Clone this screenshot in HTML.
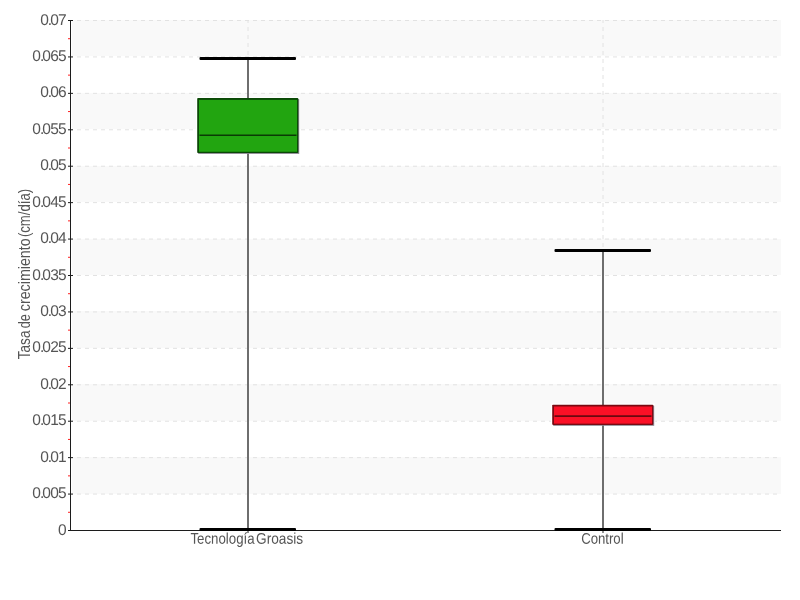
<!DOCTYPE html>
<html><head><meta charset="utf-8"><title>Chart</title>
<style>
html,body{margin:0;padding:0;background:#fff;}
body{width:800px;height:600px;overflow:hidden;font-family:"Liberation Sans",sans-serif;}
svg{display:block;will-change:transform;}
svg text{font-family:"Liberation Sans",sans-serif;fill:#555;}
</style></head><body>
<svg width="800" height="600" viewBox="0 0 800 600">
<rect width="800" height="600" fill="#fff"/>
<rect x="72" y="20" width="709" height="36" fill="#f9f9f9" shape-rendering="crispEdges"/>
<rect x="72" y="93" width="709" height="36" fill="#f9f9f9" shape-rendering="crispEdges"/>
<rect x="72" y="166" width="709" height="36" fill="#f9f9f9" shape-rendering="crispEdges"/>
<rect x="72" y="239" width="709" height="36" fill="#f9f9f9" shape-rendering="crispEdges"/>
<rect x="72" y="311" width="709" height="37" fill="#f9f9f9" shape-rendering="crispEdges"/>
<rect x="72" y="384" width="709" height="37" fill="#f9f9f9" shape-rendering="crispEdges"/>
<rect x="72" y="457" width="709" height="37" fill="#f9f9f9" shape-rendering="crispEdges"/>
 <line x1="77" y1="20.50" x2="780" y2="20.50" stroke="#e2e2e2" stroke-width="1" stroke-dasharray="4 4"/>
 <line x1="77" y1="56.93" x2="780" y2="56.93" stroke="#e2e2e2" stroke-width="1" stroke-dasharray="4 4"/>
 <line x1="77" y1="93.36" x2="780" y2="93.36" stroke="#e2e2e2" stroke-width="1" stroke-dasharray="4 4"/>
 <line x1="77" y1="129.79" x2="780" y2="129.79" stroke="#e2e2e2" stroke-width="1" stroke-dasharray="4 4"/>
 <line x1="77" y1="166.21" x2="780" y2="166.21" stroke="#e2e2e2" stroke-width="1" stroke-dasharray="4 4"/>
 <line x1="77" y1="202.64" x2="780" y2="202.64" stroke="#e2e2e2" stroke-width="1" stroke-dasharray="4 4"/>
 <line x1="77" y1="239.07" x2="780" y2="239.07" stroke="#e2e2e2" stroke-width="1" stroke-dasharray="4 4"/>
 <line x1="77" y1="275.50" x2="780" y2="275.50" stroke="#e2e2e2" stroke-width="1" stroke-dasharray="4 4"/>
 <line x1="77" y1="311.93" x2="780" y2="311.93" stroke="#e2e2e2" stroke-width="1" stroke-dasharray="4 4"/>
 <line x1="77" y1="348.36" x2="780" y2="348.36" stroke="#e2e2e2" stroke-width="1" stroke-dasharray="4 4"/>
 <line x1="77" y1="384.79" x2="780" y2="384.79" stroke="#e2e2e2" stroke-width="1" stroke-dasharray="4 4"/>
 <line x1="77" y1="421.21" x2="780" y2="421.21" stroke="#e2e2e2" stroke-width="1" stroke-dasharray="4 4"/>
 <line x1="77" y1="457.64" x2="780" y2="457.64" stroke="#e2e2e2" stroke-width="1" stroke-dasharray="4 4"/>
 <line x1="77" y1="494.07" x2="780" y2="494.07" stroke="#e2e2e2" stroke-width="1" stroke-dasharray="4 4"/>
<line x1="248" y1="20" x2="248" y2="530" stroke="#e2e2e2" stroke-width="1" stroke-dasharray="4 4" stroke-dashoffset="1"/>
<line x1="603" y1="20" x2="603" y2="530" stroke="#e2e2e2" stroke-width="1" stroke-dasharray="4 4" stroke-dashoffset="1"/>
<line x1="70.5" y1="20" x2="70.5" y2="531" stroke="#1c1c1c" stroke-width="1"/>
<line x1="68" y1="530.5" x2="781" y2="530.5" stroke="#1c1c1c" stroke-width="1"/>
<line x1="68" y1="20.50" x2="73" y2="20.50" stroke="#1c1c1c" stroke-width="1"/>
 <line x1="68" y1="38.71" x2="70" y2="38.71" stroke="#ff2020" stroke-width="1"/>
<text transform="translate(0,25) rotate(0.1)" x="40.15 47.85 50.15 58.05" y="0" font-size="15.5">0.07</text>
<line x1="68" y1="56.93" x2="73" y2="56.93" stroke="#1c1c1c" stroke-width="1"/>
 <line x1="68" y1="75.14" x2="70" y2="75.14" stroke="#ff2020" stroke-width="1"/>
<text transform="translate(0,61) rotate(0.1)" x="32.25 39.95 42.25 50.15 58.05" y="0" font-size="15.5">0.065</text>
<line x1="68" y1="93.36" x2="73" y2="93.36" stroke="#1c1c1c" stroke-width="1"/>
 <line x1="68" y1="111.57" x2="70" y2="111.57" stroke="#ff2020" stroke-width="1"/>
<text transform="translate(0,97) rotate(0.1)" x="40.15 47.85 50.15 58.05" y="0" font-size="15.5">0.06</text>
<line x1="68" y1="129.79" x2="73" y2="129.79" stroke="#1c1c1c" stroke-width="1"/>
 <line x1="68" y1="148.00" x2="70" y2="148.00" stroke="#ff2020" stroke-width="1"/>
<text transform="translate(0,134) rotate(0.1)" x="32.25 39.95 42.25 50.15 58.05" y="0" font-size="15.5">0.055</text>
<line x1="68" y1="166.21" x2="73" y2="166.21" stroke="#1c1c1c" stroke-width="1"/>
 <line x1="68" y1="184.43" x2="70" y2="184.43" stroke="#ff2020" stroke-width="1"/>
<text transform="translate(0,170) rotate(0.1)" x="40.15 47.85 50.15 58.05" y="0" font-size="15.5">0.05</text>
<line x1="68" y1="202.64" x2="73" y2="202.64" stroke="#1c1c1c" stroke-width="1"/>
 <line x1="68" y1="220.86" x2="70" y2="220.86" stroke="#ff2020" stroke-width="1"/>
<text transform="translate(0,207) rotate(0.1)" x="32.25 39.95 42.25 50.15 58.05" y="0" font-size="15.5">0.045</text>
<line x1="68" y1="239.07" x2="73" y2="239.07" stroke="#1c1c1c" stroke-width="1"/>
 <line x1="68" y1="257.29" x2="70" y2="257.29" stroke="#ff2020" stroke-width="1"/>
<text transform="translate(0,243) rotate(0.1)" x="40.15 47.85 50.15 58.05" y="0" font-size="15.5">0.04</text>
<line x1="68" y1="275.50" x2="73" y2="275.50" stroke="#1c1c1c" stroke-width="1"/>
 <line x1="68" y1="293.71" x2="70" y2="293.71" stroke="#ff2020" stroke-width="1"/>
<text transform="translate(0,280) rotate(0.1)" x="32.25 39.95 42.25 50.15 58.05" y="0" font-size="15.5">0.035</text>
<line x1="68" y1="311.93" x2="73" y2="311.93" stroke="#1c1c1c" stroke-width="1"/>
 <line x1="68" y1="330.14" x2="70" y2="330.14" stroke="#ff2020" stroke-width="1"/>
<text transform="translate(0,316) rotate(0.1)" x="40.15 47.85 50.15 58.05" y="0" font-size="15.5">0.03</text>
<line x1="68" y1="348.36" x2="73" y2="348.36" stroke="#1c1c1c" stroke-width="1"/>
 <line x1="68" y1="366.57" x2="70" y2="366.57" stroke="#ff2020" stroke-width="1"/>
<text transform="translate(0,352) rotate(0.1)" x="32.25 39.95 42.25 50.15 58.05" y="0" font-size="15.5">0.025</text>
<line x1="68" y1="384.79" x2="73" y2="384.79" stroke="#1c1c1c" stroke-width="1"/>
 <line x1="68" y1="403.00" x2="70" y2="403.00" stroke="#ff2020" stroke-width="1"/>
<text transform="translate(0,389) rotate(0.1)" x="40.15 47.85 50.15 58.05" y="0" font-size="15.5">0.02</text>
<line x1="68" y1="421.21" x2="73" y2="421.21" stroke="#1c1c1c" stroke-width="1"/>
 <line x1="68" y1="439.43" x2="70" y2="439.43" stroke="#ff2020" stroke-width="1"/>
<text transform="translate(0,425) rotate(0.1)" x="32.25 39.95 42.25 50.15 58.05" y="0" font-size="15.5">0.015</text>
<line x1="68" y1="457.64" x2="73" y2="457.64" stroke="#1c1c1c" stroke-width="1"/>
 <line x1="68" y1="475.86" x2="70" y2="475.86" stroke="#ff2020" stroke-width="1"/>
<text transform="translate(0,462) rotate(0.1)" x="40.15 47.85 50.15 58.05" y="0" font-size="15.5">0.01</text>
<line x1="68" y1="494.07" x2="73" y2="494.07" stroke="#1c1c1c" stroke-width="1"/>
 <line x1="68" y1="512.29" x2="70" y2="512.29" stroke="#ff2020" stroke-width="1"/>
<text transform="translate(0,498) rotate(0.1)" x="32.25 39.95 42.25 50.15 58.05" y="0" font-size="15.5">0.005</text>
<line x1="68" y1="530.50" x2="73" y2="530.50" stroke="#1c1c1c" stroke-width="1"/>
<text transform="translate(0,535) rotate(0.1)" x="58.05" y="0" font-size="15.5">0</text>
<line x1="248" y1="530" x2="248" y2="533" stroke="#222" stroke-width="1"/>
<line x1="603" y1="530" x2="603" y2="533" stroke="#222" stroke-width="1"/>
<rect x="196.10" y="96.90" width="104.00" height="58.00" fill="#fff"/>
<line x1="248" y1="58.5" x2="248" y2="530" stroke="#6e6e6e" stroke-width="2"/>
 <rect x="199.5" y="57.0" width="96.5" height="3" fill="#000" rx="1"/>
 <rect x="199.5" y="528" width="96.5" height="3" fill="#000" rx="1"/>
<rect x="198.20" y="99.10" width="101.00" height="54.80" fill="#8a8590"/>
<rect x="197.20" y="98.10" width="101.10" height="54.90" rx="0.8" fill="#0a4806"/>
<rect x="199.00" y="99.90" width="98.05" height="51.85" fill="#22a510"/>
<line x1="199.5" y1="135.20" x2="296.5" y2="135.20" stroke="#0a3a05" stroke-width="1.6"/>
<rect x="551.10" y="403.50" width="104.00" height="23.30" fill="#fff"/>
<line x1="603" y1="250.5" x2="603" y2="530" stroke="#6e6e6e" stroke-width="2"/>
 <rect x="554.5" y="249.0" width="96.5" height="3" fill="#000" rx="1"/>
 <rect x="554.5" y="528" width="96.5" height="3" fill="#000" rx="1"/>
<rect x="553.20" y="405.70" width="101.00" height="20.10" fill="#8a8590"/>
<rect x="552.20" y="404.70" width="101.10" height="20.20" rx="0.8" fill="#7a0a12"/>
<rect x="554.00" y="406.50" width="98.05" height="17.15" fill="#fb1026"/>
<line x1="554.5" y1="416.10" x2="651.5" y2="416.10" stroke="#6a0810" stroke-width="1.6"/>
<text transform="translate(190.50,543.70) rotate(0.1) scale(0.855,1)" x="0" y="0" font-size="15.5" text-anchor="start">Tecnología</text>
<text transform="translate(256.00,543.70) rotate(0.1) scale(0.882,1)" x="0" y="0" font-size="15.5" text-anchor="start">Groasis</text>
<text transform="translate(602.40,543.70) rotate(0.1) scale(0.85,1)" x="0" y="0" font-size="15.5" text-anchor="middle">Control</text>
<text transform="translate(29.60,359.20) rotate(-90) scale(0.875,1.05)" x="0" y="0" font-size="15.5" text-anchor="start">Tasa</text>
<text transform="translate(29.60,328.20) rotate(-90) scale(0.82,1.05)" x="0" y="0" font-size="15.5" text-anchor="start">de</text>
<text transform="translate(29.60,311.20) rotate(-90) scale(0.92,1.05)" x="0" y="0" font-size="15.5" text-anchor="start">crecimiento</text>
<text transform="translate(29.60,237.10) rotate(-90) scale(0.85,1.05)" x="0" y="0" font-size="15.5" text-anchor="start">(cm/día)</text>
</svg>
</body></html>
